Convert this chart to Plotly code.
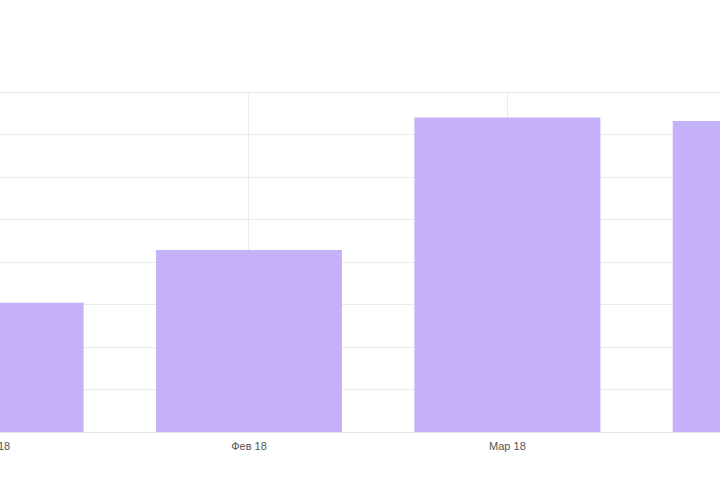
import plotly.graph_objects as go

categories = ["Янв 18", "Фев 18", "Мар 18", "Апр 18"]
values = [30.4, 42.8, 74.0, 73.2]

bar_color = "#c5b1fa"
grid_color = "#ebebeb"

fig = go.Figure(go.Bar(x=categories, y=values, marker=dict(color=bar_color, line=dict(width=0))))

fig.update_layout(
    width=720, height=480,
    margin=dict(l=0, r=0, t=92, b=48),
    paper_bgcolor="white", plot_bgcolor="white",
    bargap=0.28, showlegend=False,
    font=dict(family="Liberation Sans, Arial, sans-serif", size=11, color="#555"),
)
fig.update_xaxes(
    type="category", range=[0.0364, 2.823],
    showgrid=True, gridcolor=grid_color, gridwidth=1,
    ticks="", tickfont=dict(size=11, color="#555"), ticklabelstandoff=6,
)
fig.update_yaxes(
    range=[0, 80], dtick=10, showgrid=True, gridcolor=grid_color, gridwidth=1,
    zeroline=True, zerolinecolor="#e3e3e3", zerolinewidth=1,
    showticklabels=False, ticks="",
)
fig.add_shape(
    type="line", xref="paper", yref="y", x0=0, x1=1, y0=80, y1=80,
    line=dict(color="#e6e6e6", width=2), layer="below",
)
fig.add_annotation(
    text=categories[0], xref="paper", yref="paper", x=-8 / 720, y=0,
    yanchor="top", xanchor="center", showarrow=False, yshift=-6,
    font=dict(size=11, color="#555"),
)

fig.write_html(
    "out.html",
    config={"displayModeBar": False},
    post_script="document.body.style.margin='0';",
)
